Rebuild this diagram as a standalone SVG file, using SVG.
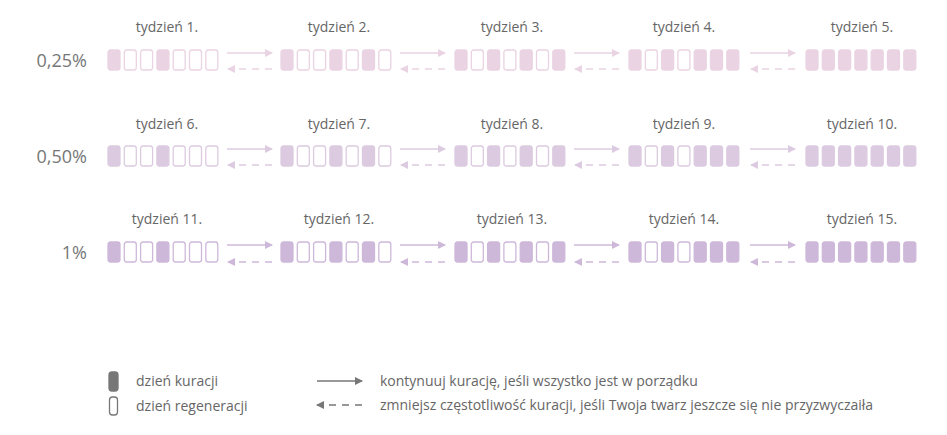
<svg xmlns="http://www.w3.org/2000/svg" width="947" height="435" viewBox="0 0 947 435">
<style>
text{font-family:"Open Sans","Liberation Sans",sans-serif;fill:#666}
.wk{font-size:14px;text-anchor:middle}
.pct{font-size:18px;text-anchor:end;fill:#777}
.lg{font-size:14px}
.r1 .f{fill:#ead3e2;stroke:#ead3e2}.r1 .o{fill:#fff;stroke:#ead3e2}.r1 line{stroke:#ead3e2}
.r2 .f{fill:#dccbe0;stroke:#dccbe0}.r2 .o{fill:#fff;stroke:#dccbe0}.r2 line{stroke:#dccbe0}
.r3 .f{fill:#ceb8da;stroke:#ceb8da}.r3 .o{fill:#fff;stroke:#ceb8da}.r3 line{stroke:#ceb8da}
rect{stroke-width:1.3}
line{stroke-width:1.5}
</style>
<defs>
<marker id="a1" markerWidth="8" markerHeight="8" refX="7" refY="4" orient="auto" markerUnits="userSpaceOnUse"><path d="M0,0L8,4L0,8z" fill="#ead3e2"/></marker>
<marker id="a2" markerWidth="8" markerHeight="8" refX="7" refY="4" orient="auto" markerUnits="userSpaceOnUse"><path d="M0,0L8,4L0,8z" fill="#dccbe0"/></marker>
<marker id="a3" markerWidth="8" markerHeight="8" refX="7" refY="4" orient="auto" markerUnits="userSpaceOnUse"><path d="M0,0L8,4L0,8z" fill="#ceb8da"/></marker>
<marker id="ag" markerWidth="8" markerHeight="8" refX="7" refY="4" orient="auto" markerUnits="userSpaceOnUse"><path d="M0,0L8,4L0,8z" fill="#777"/></marker>
<g id="w"><rect class="f" x="0.5" y="0" width="11.5" height="20" rx="2.5"/></g>
</defs>
<text class="pct" x="87" y="67">0,25%</text>
<text class="pct" x="87" y="163">0,50%</text>
<text class="pct" x="87" y="259">1%</text>

<!-- row template cells: pitch 16 -->
<g id="row1" class="r1">
<text class="wk" x="167" y="32">tydzień 1.</text>
<text class="wk" x="339" y="32">tydzień 2.</text>
<text class="wk" x="512" y="32">tydzień 3.</text>
<text class="wk" x="684" y="32">tydzień 4.</text>
<text class="wk" x="862" y="32">tydzień 5.</text>
<g transform="translate(108,50)"><rect class="f" x="0" width="12" height="20" rx="2.5"/><rect class="o" x="16.3" width="12" height="20" rx="2.5"/><rect class="o" x="32.6" width="12" height="20" rx="2.5"/><rect class="f" x="48.9" width="12" height="20" rx="2.5"/><rect class="o" x="65.2" width="12" height="20" rx="2.5"/><rect class="o" x="81.5" width="12" height="20" rx="2.5"/><rect class="o" x="97.8" width="12" height="20" rx="2.5"/></g>
<g transform="translate(281,50)"><rect class="f" x="0" width="12" height="20" rx="2.5"/><rect class="o" x="16.3" width="12" height="20" rx="2.5"/><rect class="o" x="32.6" width="12" height="20" rx="2.5"/><rect class="f" x="48.9" width="12" height="20" rx="2.5"/><rect class="o" x="65.2" width="12" height="20" rx="2.5"/><rect class="f" x="81.5" width="12" height="20" rx="2.5"/><rect class="o" x="97.8" width="12" height="20" rx="2.5"/></g>
<g transform="translate(455,50)"><rect class="f" x="0" width="12" height="20" rx="2.5"/><rect class="o" x="16.3" width="12" height="20" rx="2.5"/><rect class="f" x="32.6" width="12" height="20" rx="2.5"/><rect class="o" x="48.9" width="12" height="20" rx="2.5"/><rect class="f" x="65.2" width="12" height="20" rx="2.5"/><rect class="o" x="81.5" width="12" height="20" rx="2.5"/><rect class="f" x="97.8" width="12" height="20" rx="2.5"/></g>
<g transform="translate(629,50)"><rect class="f" x="0" width="12" height="20" rx="2.5"/><rect class="o" x="16.3" width="12" height="20" rx="2.5"/><rect class="f" x="32.6" width="12" height="20" rx="2.5"/><rect class="o" x="48.9" width="12" height="20" rx="2.5"/><rect class="f" x="65.2" width="12" height="20" rx="2.5"/><rect class="f" x="81.5" width="12" height="20" rx="2.5"/><rect class="f" x="97.8" width="12" height="20" rx="2.5"/></g>
<g transform="translate(806,50)"><rect class="f" x="0" width="12" height="20" rx="2.5"/><rect class="f" x="16.3" width="12" height="20" rx="2.5"/><rect class="f" x="32.6" width="12" height="20" rx="2.5"/><rect class="f" x="48.9" width="12" height="20" rx="2.5"/><rect class="f" x="65.2" width="12" height="20" rx="2.5"/><rect class="f" x="81.5" width="12" height="20" rx="2.5"/><rect class="f" x="97.8" width="12" height="20" rx="2.5"/></g>
</g>
<g id="row2" class="r2">
<text class="wk" x="167" y="129">tydzień 6.</text>
<text class="wk" x="339" y="129">tydzień 7.</text>
<text class="wk" x="512" y="129">tydzień 8.</text>
<text class="wk" x="684" y="129">tydzień 9.</text>
<text class="wk" x="862" y="129">tydzień 10.</text>
<g transform="translate(108,146)"><rect class="f" x="0" width="12" height="20" rx="2.5"/><rect class="o" x="16.3" width="12" height="20" rx="2.5"/><rect class="o" x="32.6" width="12" height="20" rx="2.5"/><rect class="f" x="48.9" width="12" height="20" rx="2.5"/><rect class="o" x="65.2" width="12" height="20" rx="2.5"/><rect class="o" x="81.5" width="12" height="20" rx="2.5"/><rect class="o" x="97.8" width="12" height="20" rx="2.5"/></g>
<g transform="translate(281,146)"><rect class="f" x="0" width="12" height="20" rx="2.5"/><rect class="o" x="16.3" width="12" height="20" rx="2.5"/><rect class="o" x="32.6" width="12" height="20" rx="2.5"/><rect class="f" x="48.9" width="12" height="20" rx="2.5"/><rect class="o" x="65.2" width="12" height="20" rx="2.5"/><rect class="f" x="81.5" width="12" height="20" rx="2.5"/><rect class="o" x="97.8" width="12" height="20" rx="2.5"/></g>
<g transform="translate(455,146)"><rect class="f" x="0" width="12" height="20" rx="2.5"/><rect class="o" x="16.3" width="12" height="20" rx="2.5"/><rect class="f" x="32.6" width="12" height="20" rx="2.5"/><rect class="o" x="48.9" width="12" height="20" rx="2.5"/><rect class="f" x="65.2" width="12" height="20" rx="2.5"/><rect class="o" x="81.5" width="12" height="20" rx="2.5"/><rect class="f" x="97.8" width="12" height="20" rx="2.5"/></g>
<g transform="translate(629,146)"><rect class="f" x="0" width="12" height="20" rx="2.5"/><rect class="o" x="16.3" width="12" height="20" rx="2.5"/><rect class="f" x="32.6" width="12" height="20" rx="2.5"/><rect class="o" x="48.9" width="12" height="20" rx="2.5"/><rect class="f" x="65.2" width="12" height="20" rx="2.5"/><rect class="f" x="81.5" width="12" height="20" rx="2.5"/><rect class="f" x="97.8" width="12" height="20" rx="2.5"/></g>
<g transform="translate(806,146)"><rect class="f" x="0" width="12" height="20" rx="2.5"/><rect class="f" x="16.3" width="12" height="20" rx="2.5"/><rect class="f" x="32.6" width="12" height="20" rx="2.5"/><rect class="f" x="48.9" width="12" height="20" rx="2.5"/><rect class="f" x="65.2" width="12" height="20" rx="2.5"/><rect class="f" x="81.5" width="12" height="20" rx="2.5"/><rect class="f" x="97.8" width="12" height="20" rx="2.5"/></g>
</g>
<g id="row3" class="r3">
<text class="wk" x="167" y="224">tydzień 11.</text>
<text class="wk" x="339" y="224">tydzień 12.</text>
<text class="wk" x="512" y="224">tydzień 13.</text>
<text class="wk" x="684" y="224">tydzień 14.</text>
<text class="wk" x="862" y="224">tydzień 15.</text>
<g transform="translate(108,242)"><rect class="f" x="0" width="12" height="20" rx="2.5"/><rect class="o" x="16.3" width="12" height="20" rx="2.5"/><rect class="o" x="32.6" width="12" height="20" rx="2.5"/><rect class="f" x="48.9" width="12" height="20" rx="2.5"/><rect class="o" x="65.2" width="12" height="20" rx="2.5"/><rect class="o" x="81.5" width="12" height="20" rx="2.5"/><rect class="o" x="97.8" width="12" height="20" rx="2.5"/></g>
<g transform="translate(281,242)"><rect class="f" x="0" width="12" height="20" rx="2.5"/><rect class="o" x="16.3" width="12" height="20" rx="2.5"/><rect class="o" x="32.6" width="12" height="20" rx="2.5"/><rect class="f" x="48.9" width="12" height="20" rx="2.5"/><rect class="o" x="65.2" width="12" height="20" rx="2.5"/><rect class="f" x="81.5" width="12" height="20" rx="2.5"/><rect class="o" x="97.8" width="12" height="20" rx="2.5"/></g>
<g transform="translate(455,242)"><rect class="f" x="0" width="12" height="20" rx="2.5"/><rect class="o" x="16.3" width="12" height="20" rx="2.5"/><rect class="f" x="32.6" width="12" height="20" rx="2.5"/><rect class="o" x="48.9" width="12" height="20" rx="2.5"/><rect class="f" x="65.2" width="12" height="20" rx="2.5"/><rect class="o" x="81.5" width="12" height="20" rx="2.5"/><rect class="f" x="97.8" width="12" height="20" rx="2.5"/></g>
<g transform="translate(629,242)"><rect class="f" x="0" width="12" height="20" rx="2.5"/><rect class="o" x="16.3" width="12" height="20" rx="2.5"/><rect class="f" x="32.6" width="12" height="20" rx="2.5"/><rect class="o" x="48.9" width="12" height="20" rx="2.5"/><rect class="f" x="65.2" width="12" height="20" rx="2.5"/><rect class="f" x="81.5" width="12" height="20" rx="2.5"/><rect class="f" x="97.8" width="12" height="20" rx="2.5"/></g>
<g transform="translate(806,242)"><rect class="f" x="0" width="12" height="20" rx="2.5"/><rect class="f" x="16.3" width="12" height="20" rx="2.5"/><rect class="f" x="32.6" width="12" height="20" rx="2.5"/><rect class="f" x="48.9" width="12" height="20" rx="2.5"/><rect class="f" x="65.2" width="12" height="20" rx="2.5"/><rect class="f" x="81.5" width="12" height="20" rx="2.5"/><rect class="f" x="97.8" width="12" height="20" rx="2.5"/></g>
</g>
<g id="connectors">
<g class="r1">
<line x1="227" y1="53" x2="272" y2="53" marker-end="url(#a1)"/><line x1="272" y1="69" x2="228" y2="69" stroke-dasharray="7,6" marker-end="url(#a1)"/>
<line x1="400" y1="53" x2="445" y2="53" marker-end="url(#a1)"/><line x1="445" y1="69" x2="401" y2="69" stroke-dasharray="7,6" marker-end="url(#a1)"/>
<line x1="574" y1="53" x2="619" y2="53" marker-end="url(#a1)"/><line x1="619" y1="69" x2="575" y2="69" stroke-dasharray="7,6" marker-end="url(#a1)"/>
<line x1="750" y1="53" x2="795" y2="53" marker-end="url(#a1)"/><line x1="795" y1="69" x2="751" y2="69" stroke-dasharray="7,6" marker-end="url(#a1)"/>
</g>
<g class="r2">
<line x1="227" y1="149" x2="272" y2="149" marker-end="url(#a2)"/><line x1="272" y1="165" x2="228" y2="165" stroke-dasharray="7,6" marker-end="url(#a2)"/>
<line x1="400" y1="149" x2="445" y2="149" marker-end="url(#a2)"/><line x1="445" y1="165" x2="401" y2="165" stroke-dasharray="7,6" marker-end="url(#a2)"/>
<line x1="574" y1="149" x2="619" y2="149" marker-end="url(#a2)"/><line x1="619" y1="165" x2="575" y2="165" stroke-dasharray="7,6" marker-end="url(#a2)"/>
<line x1="750" y1="149" x2="795" y2="149" marker-end="url(#a2)"/><line x1="795" y1="165" x2="751" y2="165" stroke-dasharray="7,6" marker-end="url(#a2)"/>
</g>
<g class="r3">
<line x1="227" y1="245" x2="272" y2="245" marker-end="url(#a3)"/><line x1="272" y1="262" x2="228" y2="262" stroke-dasharray="7,6" marker-end="url(#a3)"/>
<line x1="400" y1="245" x2="445" y2="245" marker-end="url(#a3)"/><line x1="445" y1="262" x2="401" y2="262" stroke-dasharray="7,6" marker-end="url(#a3)"/>
<line x1="574" y1="245" x2="619" y2="245" marker-end="url(#a3)"/><line x1="619" y1="262" x2="575" y2="262" stroke-dasharray="7,6" marker-end="url(#a3)"/>
<line x1="750" y1="245" x2="795" y2="245" marker-end="url(#a3)"/><line x1="795" y1="262" x2="751" y2="262" stroke-dasharray="7,6" marker-end="url(#a3)"/>
</g>
</g>
<g id="legend">
<rect x="109" y="372" width="9" height="19" rx="3" fill="#777" stroke="#777" stroke-width="1"/>
<rect x="109.5" y="397" width="8" height="18" rx="3" fill="#fff" stroke="#777" stroke-width="1"/>
<text class="lg" x="136" y="386">dzień kuracji</text>
<text class="lg" x="136" y="411">dzień regeneracji</text>
<line x1="317" y1="381" x2="362" y2="381" stroke="#777" stroke-width="1.2" marker-end="url(#ag)"/>
<line x1="362" y1="405" x2="317" y2="405" stroke="#777" stroke-width="1.2" stroke-dasharray="7,6" marker-end="url(#ag)"/>
<text class="lg" x="380" y="386">kontynuuj kurację, jeśli wszystko jest w porządku</text>
<text class="lg" x="380" y="410">zmniejsz częstotliwość kuracji, jeśli Twoja twarz jeszcze się nie przyzwyczaiła</text>
</g>
</svg>
